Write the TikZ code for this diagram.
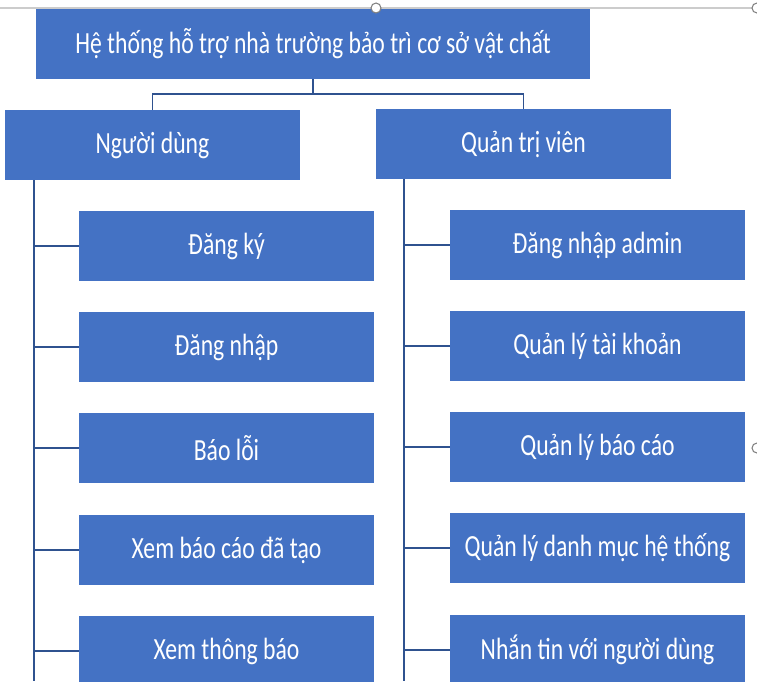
\documentclass[tikz,border=0pt]{standalone}
\usepackage{fontspec}
\setmainfont{Carlito}[FakeStretch=0.77]
\usetikzlibrary{calc}
\definecolor{boxblue}{HTML}{4472C4}
\definecolor{lineblue}{HTML}{2F528F}

\begin{document}
\begin{tikzpicture}[x=0.02cm, y=-0.02cm,
	box/.style={fill=boxblue, text=white, inner sep=0pt, minimum width=5.9cm, minimum height=1.4cm, font=\fontsize{17.5pt}{21pt}\selectfont},
	link/.style={draw=lineblue, line width=0.6pt}]
		
		%Frame
		\useasboundingbox (0,0) rectangle (757,681);
		\clip (0,0) rectangle (757,681);
		\draw[gray!40, line width=0.6pt] (0,8) -- (757,8);
		
		%Boxes
		\node[box, minimum width=11.08cm] (root) at (313,44) {Hệ thống hỗ trợ nhà trường bảo trì cơ sở vật chất};
		\node[box] (user) at (152.5,145) {Người dùng};
		\node[box] (admin) at (523.5,144) {Quản trị viên};
		
		%%User functions
		\foreach \name/\y/\txt in {u1/246/Đăng ký, u2/347/Đăng nhập, u3/448/Báo lỗi, u4/550/Xem báo cáo đã tạo, u5/651/Xem thông báo}
		{
			\node[box] (\name) at (226.5,\y) {\txt};
		}
		%%Admin functions
		\foreach \name/\y/\txt in {a1/245/Đăng nhập admin, a2/346/Quản lý tài khoản, a3/447/Quản lý báo cáo, a4/548/Quản lý danh mục hệ thống, a5/650/Nhắn tin với người dùng}
		{
			\node[box] (\name) at (597.5,\y) {\txt};
		}
		
		%Links
		\coordinate (split) at (313,94);
		\draw[link] (root.south) -- (split) -| (user.north);
		\draw[link] (split) -| (admin.north);
		
		\coordinate (lt) at (34,180);
		\coordinate (lb) at (34,681);
		\coordinate (rt) at (404,179);
		\coordinate (rb) at (404,681);
		\draw[link] (lt) -- (lb);
		\draw[link] (rt) -- (rb);
		\foreach \i in {1,...,5}
		{
			\draw[link] (lt |- u\i.west) -- (u\i.west);
			\draw[link] (rt |- a\i.west) -- (a\i.west);
		}
		
		%Handles
		\draw[gray, fill=white, line width=0.6pt] (376,8) circle (5);
		\draw[gray, fill=white, line width=0.6pt] (757,8) circle (5);
		\draw[gray, fill=white, line width=0.6pt] (757,448) circle (5);
		
	\end{tikzpicture}
\end{document}
